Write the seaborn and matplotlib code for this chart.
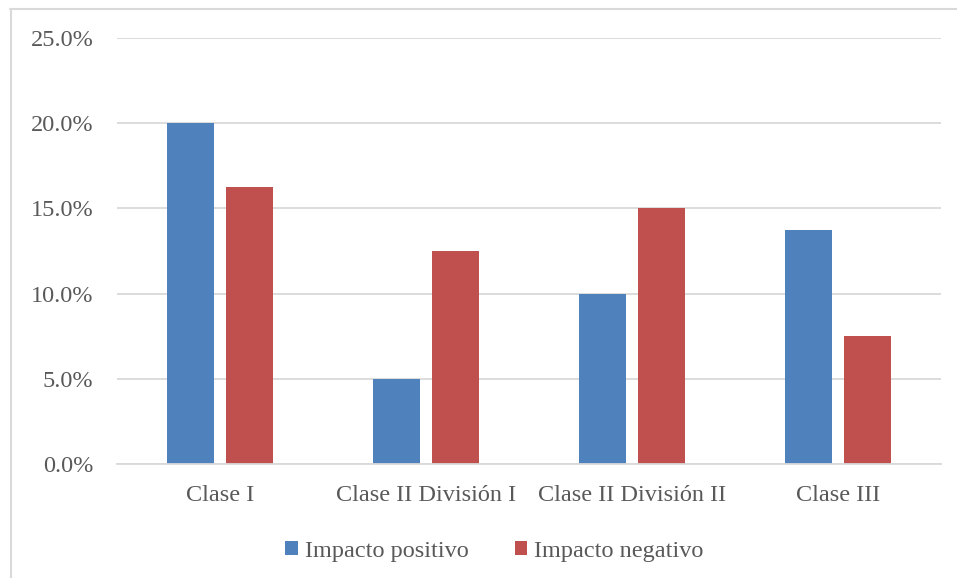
import matplotlib
matplotlib.use("Agg")
import matplotlib.pyplot as plt
import seaborn as sns
import pandas as pd
from matplotlib.lines import Line2D
from matplotlib.ticker import FuncFormatter

categories = ["Clase I", "Clase II División I", "Clase II División II", "Clase III"]
series = ["Impacto positivo", "Impacto negativo"]
positivo = [20.0, 5.0, 10.0, 13.75]
negativo = [16.25, 12.5, 15.0, 7.5]
yticks = [0, 5, 10, 15, 20, 25]

df = pd.DataFrame({
    "cat": categories * 2,
    "serie": [series[0]] * len(categories) + [series[1]] * len(categories),
    "val": positivo + negativo,
})

sns.set_style("white")
plt.rcParams["font.family"] = ["Liberation Serif", "DejaVu Serif"]
txt = "#595959"
grid = "#D9D9D9"
fs = 17.5

W, H = 957, 578
fig = plt.figure(figsize=(W / 100, H / 100), dpi=100)
ax = fig.add_axes([117 / W, 1 - 464 / H, (941 - 117) / W, (464 - 38) / H])

sns.barplot(data=df, x="cat", y="val", hue="serie", palette=["#4F81BD", "#C0504D"],
            width=0.573, gap=0.22, ax=ax, legend=True, saturation=1, linewidth=0)

ax.set_ylim(0, 25)
ax.set_yticks(yticks)
ax.yaxis.set_major_formatter(FuncFormatter(lambda v, p: f"{v:.1f}%"))
ax.grid(axis="y", color=grid, linewidth=1.3)
ax.set_axisbelow(True)
for s in ["top", "right", "left"]:
    ax.spines[s].set_visible(False)
ax.spines["bottom"].set_color(grid)
ax.spines["bottom"].set_linewidth(1.3)
ax.set_xlabel("")
ax.set_ylabel("")
ax.tick_params(axis="both", length=0, colors=txt, labelsize=fs)
ax.tick_params(axis="y", pad=17)
ax.tick_params(axis="x", pad=15)

leg = ax.legend(loc="center", bbox_to_anchor=((494.5 - 117) / 824, (464 - 551) / (464 - 38)),
                ncol=2, frameon=False, fontsize=fs, handlelength=0.5, handleheight=0.5,
                handletextpad=0.3, columnspacing=1.9)
for t in leg.get_texts():
    t.set_color(txt)

fig.add_artist(Line2D([10.5 / W, 10.5 / W], [0, 1 - 8.5 / H], color=grid, linewidth=1.5))
fig.add_artist(Line2D([10 / W, 1], [1 - 8.5 / H, 1 - 8.5 / H], color=grid, linewidth=1.5))

fig.savefig("out.png", dpi=100, facecolor="white")
